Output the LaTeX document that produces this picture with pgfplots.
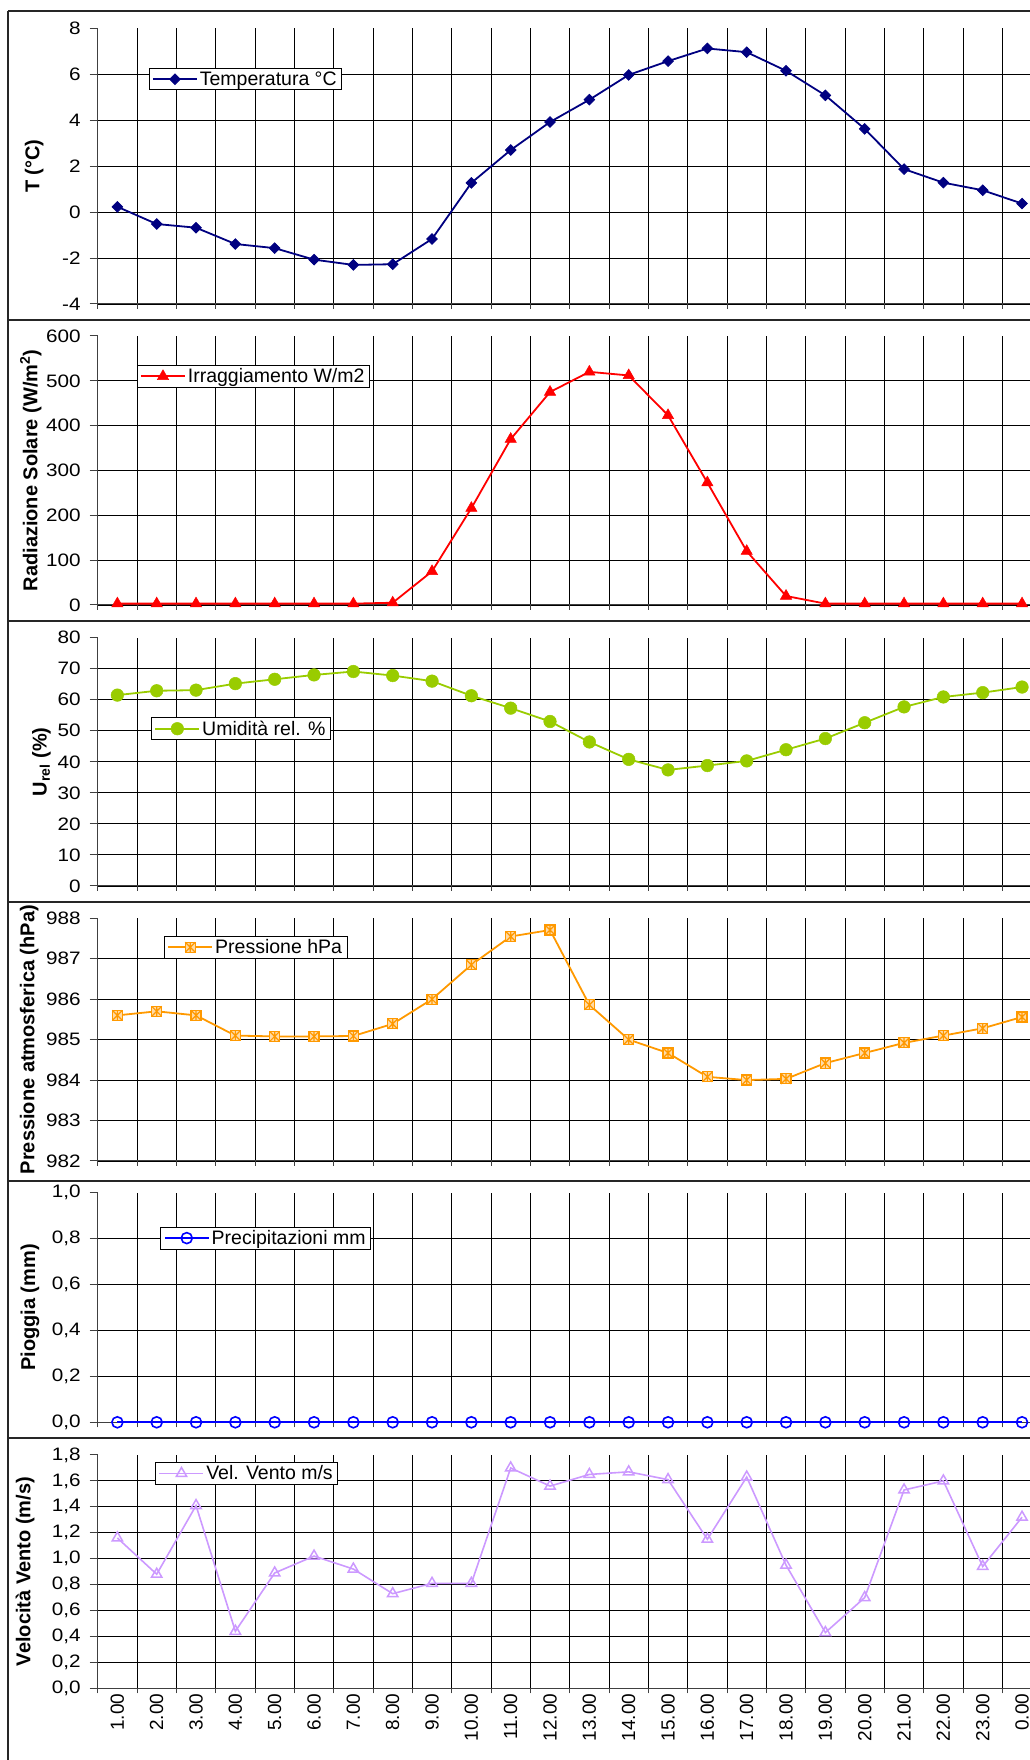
\documentclass[border=0pt]{standalone}
\usepackage{fontspec}
\setmainfont{Liberation Sans}
\usepackage{pgfplots}
\pgfplotsset{compat=1.18}
\definecolor{navyc}{RGB}{0,0,128}
\definecolor{redc}{RGB}{255,0,0}
\definecolor{greenc}{RGB}{153,204,0}
\definecolor{orangec}{RGB}{255,153,0}
\definecolor{bluec}{RGB}{0,0,255}
\definecolor{lavc}{RGB}{204,153,255}
\newcommand\tickfont{\fontsize{18}{20}\selectfont}
\newcommand\xfont{\fontsize{19}{21}\selectfont}
\newcommand\labfont{\fontsize{20}{22}\selectfont\bfseries}
\newcommand\legfont{\fontsize{19.5}{21}\selectfont}
\pgfdeclareplotmark{sqstar}{%
  \pgfpathrectangle{\pgfqpoint{-\pgfplotmarksize}{-\pgfplotmarksize}}{\pgfqpoint{2\pgfplotmarksize}{2\pgfplotmarksize}}%
  \pgfusepathqfillstroke
  \pgfpathmoveto{\pgfqpoint{-\pgfplotmarksize}{-\pgfplotmarksize}}\pgfpathlineto{\pgfqpoint{\pgfplotmarksize}{\pgfplotmarksize}}%
  \pgfpathmoveto{\pgfqpoint{-\pgfplotmarksize}{\pgfplotmarksize}}\pgfpathlineto{\pgfqpoint{\pgfplotmarksize}{-\pgfplotmarksize}}%
  \pgfpathmoveto{\pgfqpoint{0pt}{-\pgfplotmarksize}}\pgfpathlineto{\pgfqpoint{0pt}{\pgfplotmarksize}}%
  \pgfusepathqstroke}
\pgfdeclareplotmark{rdiamond}{%
  \pgfpathmoveto{\pgfqpoint{0pt}{\pgfplotmarksize}}%
  \pgfpathlineto{\pgfqpoint{\pgfplotmarksize}{0pt}}%
  \pgfpathlineto{\pgfqpoint{0pt}{-\pgfplotmarksize}}%
  \pgfpathlineto{\pgfqpoint{-\pgfplotmarksize}{0pt}}%
  \pgfpathclose
  \pgfusepathqfillstroke}
\pgfplotsset{
  panel/.style={
    scale only axis, width=944pt, anchor=south west,
    xmin=0, xmax=24, xtick={0,...,24}, xticklabel={\relax},
    axis x line*=bottom, axis y line*=left,
    tick align=outside, major tick length=8pt,
    xtick style={/pgfplots/major tick length=5pt},
    xmajorgrids, ymajorgrids,
    grid style={black, line width=0.9pt},
    axis line style={black!75, line width=1pt},
    tick style={black!75, line width=1pt},
    clip=false, scaled y ticks=false,
    yticklabel style={font=\tickfont, xshift=-5pt, xscale=1.15},
    extra y tick style={grid=none},
    ylabel style={font=\labfont, at={(axis description cs:#1,0.5)}, anchor=center},
    legend style={draw=black, line width=0.8pt, fill=white, font=\legfont,
      inner xsep=3pt, inner ysep=1pt, nodes={inner sep=2pt}, legend cell align=left},
    legend image code/.code={\draw[mark repeat=2,mark phase=2,##1] plot coordinates {(0pt,0pt) (22pt,0pt) (44pt,0pt)};},
  }
}
\begin{document}
\begin{tikzpicture}
% frames
\draw[line width=1.8pt, black!85] (8pt,1749pt) -- (1060pt,1749pt);
\draw[line width=1.8pt, black!85] (8pt,1440pt) -- (1060pt,1440pt);
\draw[line width=1.8pt, black!85] (8pt,1139.3pt) -- (1060pt,1139.3pt);
\draw[line width=1.8pt, black!85] (8pt,858.3pt) -- (1060pt,858.3pt);
\draw[line width=1.8pt, black!85] (8pt,579.3pt) -- (1060pt,579.3pt);
\draw[line width=1.8pt, black!85] (8pt,321.7pt) -- (1060pt,321.7pt);
\draw[line width=1.8pt, black!85] (8pt,1749pt) -- (8pt,-20pt);

% Panel 1: Temperature
\begin{axis}[panel=-0.0672, at={(97.7pt,1456pt)}, height=275.7pt,
  ymin=-4, ymax=8, ytick={-4,-2,0,2,4,6}, yticklabels={-4,-2,0,2,4,6},
  extra y ticks={8}, extra y tick labels={8},
  ylabel={T (°C)},
  legend style={at={(axis description cs:0.054,0.855)}, anchor=north west}]
\addplot[navyc, line width=1.8pt, mark=rdiamond, mark size=5.3pt, mark options={solid, fill=navyc, line width=0.8pt}] coordinates {
(0.5,0.23) (1.5,-0.52) (2.5,-0.68) (3.5,-1.39) (4.5,-1.57) (5.5,-2.07) (6.5,-2.30) (7.5,-2.27)
(8.5,-1.17) (9.5,1.27) (10.5,2.70) (11.5,3.92) (12.5,4.89) (13.5,5.97) (14.5,6.57) (15.5,7.12)
(16.5,6.96) (17.5,6.15) (18.5,5.08) (19.5,3.62) (20.5,1.87) (21.5,1.28) (22.5,0.95) (23.5,0.37)};
\addlegendentry{Temperatura °C}
\end{axis}

% Panel 2: Radiation
\begin{axis}[panel=-0.0709, at={(97.7pt,1155pt)}, height=269pt,
  ymin=0, ymax=600, ytick={0,100,...,500}, yticklabels={0,100,200,300,400,500},
  extra y ticks={600}, extra y tick labels={600},
  ylabel={Radiazione Solare (W/m\textsuperscript{2})},
  legend style={at={(axis description cs:0.0413,0.892)}, anchor=north west}]
\addplot[redc, line width=1.8pt, mark=triangle*, mark size=6.5pt, mark options={solid, fill=redc, line width=0.5pt}] coordinates {
(0.5,3) (1.5,3) (2.5,3) (3.5,3) (4.5,3) (5.5,3) (6.5,3) (7.5,5)
(8.5,75) (9.5,216) (10.5,370) (11.5,475) (12.5,520) (13.5,512) (14.5,423) (15.5,273)
(16.5,120) (17.5,20) (18.5,3) (19.5,3) (20.5,3) (21.5,3) (22.5,3) (23.5,3)};
\addlegendentry{Irraggiamento W/m2}
\end{axis}

% Panel 3: Humidity
\begin{axis}[panel=-0.0595, at={(97.7pt,874pt)}, height=248.3pt,
  ymin=0, ymax=80, ytick={0,10,...,70}, yticklabels={0,10,20,30,40,50,60,70},
  extra y ticks={80}, extra y tick labels={80},
  ylabel={U\textsubscript{rel} (\%)},
  legend style={at={(axis description cs:0.0565,0.679)}, anchor=north west}]
\addplot[greenc, line width=1.8pt, mark=*, mark size=6.3pt, mark options={solid, fill=greenc, line width=0.5pt}] coordinates {
(0.5,61.5) (1.5,62.9) (2.5,63.1) (3.5,65.2) (4.5,66.6) (5.5,68.0) (6.5,69.1) (7.5,67.8)
(8.5,66.0) (9.5,61.3) (10.5,57.3) (11.5,53.0) (12.5,46.4) (13.5,40.8) (14.5,37.4) (15.5,38.8)
(16.5,40.3) (17.5,43.9) (18.5,47.5) (19.5,52.6) (20.5,57.7) (21.5,60.9) (22.5,62.3) (23.5,64.1)};
\addlegendentry{Umidità rel. \%}
\end{axis}

% Panel 4: Pressure
\begin{axis}[panel=-0.0726, at={(97.7pt,599pt)}, height=242.7pt,
  ymin=982, ymax=988, ytick={982,983,...,987}, yticklabels={982,983,984,985,986,987},
  extra y ticks={988}, extra y tick labels={988},
  ylabel={Pressione atmosferica (hPa)},
  legend style={at={(axis description cs:0.0702,0.927)}, anchor=north west}]
\addplot[orangec, line width=1.8pt, mark=sqstar, mark size=5pt, mark options={solid, fill=orangec!35!white, line width=1.2pt}] coordinates {
(0.5,985.6) (1.5,985.7) (2.5,985.6) (3.5,985.1) (4.5,985.08) (5.5,985.08) (6.5,985.09) (7.5,985.39)
(8.5,986.0) (9.5,986.85) (10.5,987.55) (11.5,987.71) (12.5,985.86) (13.5,985.0) (14.5,984.67) (15.5,984.08)
(16.5,984.0) (17.5,984.03) (18.5,984.42) (19.5,984.67) (20.5,984.92) (21.5,985.1) (22.5,985.28) (23.5,985.56)};
\addlegendentry{Pressione hPa}
\end{axis}

% Panel 5: Rain
\begin{axis}[panel=-0.0717, at={(97.7pt,337.7pt)}, height=229.6pt,
  ymin=0, ymax=1, ytick={0,0.2,0.4,0.6,0.8}, yticklabels={0{,}0,0{,}2,0{,}4,0{,}6,0{,}8},
  extra y ticks={1}, extra y tick labels={1{,}0},
  ylabel={Pioggia (mm)},
  legend style={at={(axis description cs:0.0665,0.851)}, anchor=north west}]
\addplot[bluec, line width=1.8pt, mark=o, mark size=5.5pt, mark options={solid, line width=1.6pt}] coordinates {
(0.5,0) (1.5,0) (2.5,0) (3.5,0) (4.5,0) (5.5,0) (6.5,0) (7.5,0)
(8.5,0) (9.5,0) (10.5,0) (11.5,0) (12.5,0) (13.5,0) (14.5,0) (15.5,0)
(16.5,0) (17.5,0) (18.5,0) (19.5,0) (20.5,0) (21.5,0) (22.5,0) (23.5,0)};
\addlegendentry{Precipitazioni mm}
\end{axis}

% Panel 6: Wind
\begin{axis}[panel=-0.077, at={(97.7pt,71.7pt)}, height=233.3pt,
  ymin=0, ymax=1.8, ytick={0,0.2,0.4,0.6,0.8,1.0,1.2,1.4,1.6},
  yticklabels={0{,}0,0{,}2,0{,}4,0{,}6,0{,}8,1{,}0,1{,}2,1{,}4,1{,}6},
  extra y ticks={1.8}, extra y tick labels={1{,}8},
  extra x ticks={0.5,1.5,...,23.5},
  extra x tick labels={1.00,2.00,3.00,4.00,5.00,6.00,7.00,8.00,9.00,10.00,11.00,12.00,13.00,14.00,15.00,16.00,17.00,18.00,19.00,20.00,21.00,22.00,23.00,0.00},
  extra x tick style={grid=none, tick style={draw=none}, tick label style={yshift=6pt, rotate=90, anchor=east, font=\xfont}},
  ylabel={Velocità Vento (m/s)},
  legend style={at={(axis description cs:0.061,0.969)}, anchor=north west}]
\addplot[lavc, line width=1.6pt, mark=triangle, mark size=6pt, mark options={solid, line width=1.5pt}] coordinates {
(0.5,1.16) (1.5,0.88) (2.5,1.41) (3.5,0.44) (4.5,0.89) (5.5,1.02) (6.5,0.92) (7.5,0.73)
(8.5,0.81) (9.5,0.81) (10.5,1.70) (11.5,1.56) (12.5,1.65) (13.5,1.67) (14.5,1.61) (15.5,1.15)
(16.5,1.63) (17.5,0.95) (18.5,0.43) (19.5,0.70) (20.5,1.53) (21.5,1.60) (22.5,0.94) (23.5,1.32)};
\addlegendentry{Vel. Vento m/s}
\end{axis}
\pgfresetboundingbox
\useasboundingbox (0,0) rectangle (1029pt,1760pt);
\end{tikzpicture}
\end{document}
